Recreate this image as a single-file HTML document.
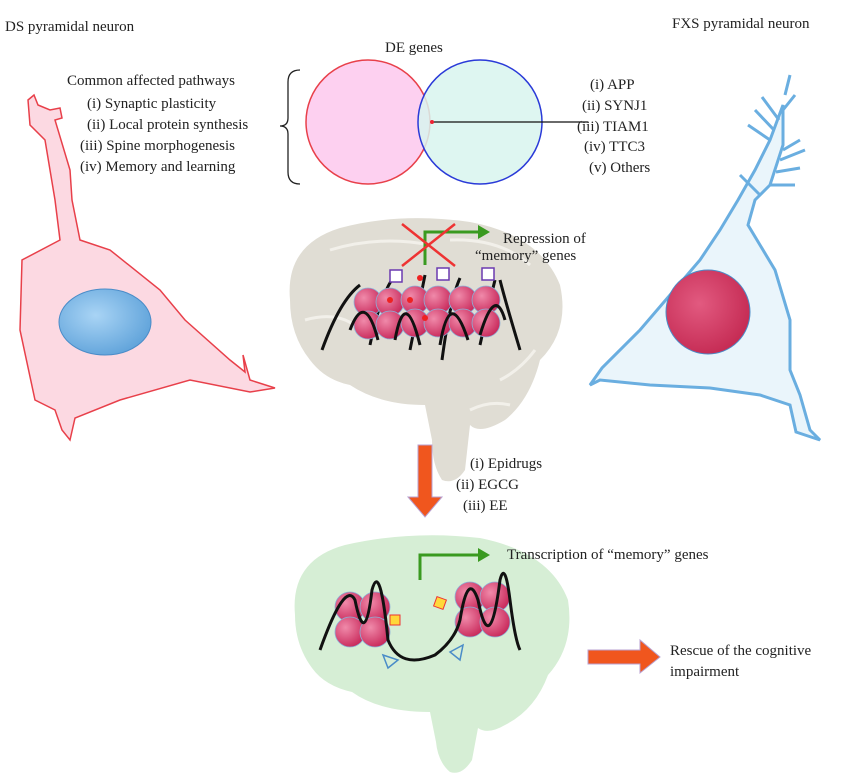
<!DOCTYPE html>
<html><head><meta charset="utf-8"><style>
html,body{margin:0;padding:0;background:#fff}
svg{display:block}
text{font-family:"Liberation Serif",serif;font-size:15px;fill:#222}
</style></head><body>
<svg width="850" height="779" viewBox="0 0 850 779" xmlns="http://www.w3.org/2000/svg">
<defs>
<radialGradient id="sph" cx="35%" cy="35%" r="70%"><stop offset="0" stop-color="#f08aaa"/><stop offset="1" stop-color="#c8285a"/></radialGradient>
<radialGradient id="nucB" cx="40%" cy="40%" r="70%"><stop offset="0" stop-color="#a9d4f5"/><stop offset="1" stop-color="#5a9fd8"/></radialGradient>
<radialGradient id="nucR" cx="40%" cy="40%" r="70%"><stop offset="0" stop-color="#e25a80"/><stop offset="1" stop-color="#c2264f"/></radialGradient>
</defs>
<text x="5" y="31">DS pyramidal neuron</text>
<text x="672" y="28">FXS pyramidal neuron</text>
<text x="385" y="52">DE genes</text>
<text x="67" y="85">Common affected pathways</text>
<text x="87" y="108">(i) Synaptic plasticity</text>
<text x="87" y="129">(ii) Local protein synthesis</text>
<text x="80" y="150">(iii) Spine morphogenesis</text>
<text x="80" y="171">(iv) Memory and learning</text>
<path d="M300,70 Q288,70 288,82 L288,118 Q288,126 280,126 Q288,126 288,134 L288,172 Q288,184 300,184" fill="none" stroke="#222" stroke-width="1.3"/>
<circle cx="368" cy="122" r="62" fill="#fdd0f0" stroke="#e8404a" stroke-width="1.5"/>
<circle cx="480" cy="122" r="62" fill="#d8f5ee" fill-opacity="0.85" stroke="#2a3ad8" stroke-width="1.5"/>
<line x1="432" y1="122" x2="588" y2="122" stroke="#111" stroke-width="1.3"/>
<circle cx="432" cy="122" r="2" fill="#e23"/>
<text x="590" y="89">(i) APP</text>
<text x="582" y="110">(ii) SYNJ1</text>
<text x="577" y="131">(iii) TIAM1</text>
<text x="584" y="151">(iv) TTC3</text>
<text x="589" y="172">(v) Others</text>
<!-- left neuron -->
<path d="M28,100 L34,95 L38,105 L50,110 L60,108 L62,118 L55,120 L70,170 L72,200 L80,240 L110,250 L160,290 L185,320 L230,360 L245,372 L243,355 L250,380 L275,388 L250,392 L190,380 L120,400 L75,418 L70,440 L62,430 L55,410 L35,400 L20,330 L22,260 L60,240 L55,200 L45,140 L30,125 Z" fill="#fcd9e2" stroke="#e8404a" stroke-width="1.5"/>
<ellipse cx="105" cy="322" rx="46" ry="33" fill="url(#nucB)" stroke="#4a8cc8"/>
<!-- right neuron -->
<path d="M783,105 L783,145 L770,185 L755,200 L748,225 L775,270 L790,320 L790,370 L800,395 L810,430 L820,440 L796,432 L790,405 L760,395 L710,388 L650,385 L600,380 L590,385 L602,368 L640,330 L700,260 L720,230 L738,200 L755,170 L770,140 Z" fill="#eaf5fb" stroke="#6aaee0" stroke-width="3"/>
<path d="M770,140 L748,125 M774,130 L755,110 M779,120 L762,97 M783,150 L800,140 M780,160 L805,150 M776,172 L800,168 M770,185 L795,185 M760,195 L740,175 M783,110 L795,95 M785,95 L790,75" stroke="#6aaee0" stroke-width="3" fill="none"/>
<circle cx="708" cy="312" r="42" fill="url(#nucR)" stroke="#4a8cc8"/>
<!-- top brain -->
<path d="M290,300 Q285,245 340,228 Q400,212 470,222 Q540,235 560,285 Q570,330 540,360 Q530,400 505,420 Q480,435 470,425 L465,470 Q455,485 442,480 Q432,465 432,440 L425,405 Q380,405 350,385 Q325,380 310,360 Q290,335 290,300 Z" fill="#e0ddd4"/>
<path d="M330,250 Q380,235 430,245 M450,240 Q500,238 530,265 M305,320 Q340,310 360,330 M500,380 Q520,370 535,350 M470,410 Q490,400 510,405" stroke="#f2f0ea" stroke-width="3" fill="none"/>
<g stroke="#111" stroke-width="3" fill="none">
<path d="M322,350 Q340,300 360,285 M370,345 Q380,295 395,275 M410,350 Q420,300 425,275 M442,360 Q450,300 460,278 M480,345 Q490,300 495,280 M520,350 Q505,300 500,280"/>
</g>
<g fill="url(#sph)" stroke="#8ab0d8" stroke-width="0.8">
<circle cx="368" cy="302" r="14"/><circle cx="390" cy="302" r="14"/><circle cx="368" cy="325" r="14"/><circle cx="390" cy="325" r="14"/>
<circle cx="415" cy="300" r="14"/><circle cx="438" cy="300" r="14"/><circle cx="415" cy="323" r="14"/><circle cx="438" cy="323" r="14"/>
<circle cx="463" cy="300" r="14"/><circle cx="486" cy="300" r="14"/><circle cx="463" cy="323" r="14"/><circle cx="486" cy="323" r="14"/>
</g>
<g stroke="#111" stroke-width="3" fill="none">
<path d="M350,330 Q365,290 378,340 M395,340 Q405,285 420,345 M440,345 Q450,285 468,340 M480,335 Q495,285 505,320"/>
</g>
<g fill="#fff" stroke="#6a3ab0" stroke-width="1.5">
<rect x="390" y="270" width="12" height="12"/><rect x="437" y="268" width="12" height="12"/><rect x="482" y="268" width="12" height="12"/>
</g>
<g fill="#e22"><circle cx="390" cy="300" r="3"/><circle cx="410" cy="300" r="3"/><circle cx="425" cy="318" r="3"/><circle cx="420" cy="278" r="3"/></g>
<path d="M425,265 L425,232 L480,232" stroke="#3a9a20" stroke-width="3" fill="none"/>
<path d="M478,225 L490,232 L478,239 Z" fill="#3a9a20"/>
<path d="M402,224 L455,266 M455,224 L402,266" stroke="#e33" stroke-width="2.5"/>
<text x="503" y="243">Repression of</text>
<text x="475" y="260">“memory” genes</text>
<!-- down arrow -->
<path d="M418,445 L432,445 L432,497 L442,497 L425,517 L408,497 L418,497 Z" fill="#f0561e" stroke="#b8a0d0"/>
<text x="470" y="468">(i) Epidrugs</text>
<text x="456" y="489">(ii) EGCG</text>
<text x="463" y="510">(iii) EE</text>
<!-- bottom brain -->
<path d="M295,615 Q290,560 345,545 Q410,530 480,538 Q550,552 568,600 Q575,645 548,675 Q535,710 505,725 Q488,735 478,728 L472,760 Q462,776 450,772 Q438,762 436,742 L430,712 Q380,712 352,692 Q325,686 312,668 Q295,645 295,615 Z" fill="#d6eed5"/>
<g fill="url(#sph)" stroke="#8ab0d8" stroke-width="0.8">
<circle cx="350" cy="607" r="15"/><circle cx="375" cy="607" r="15"/><circle cx="350" cy="632" r="15"/><circle cx="375" cy="632" r="15"/>
<circle cx="470" cy="597" r="15"/><circle cx="495" cy="597" r="15"/><circle cx="470" cy="622" r="15"/><circle cx="495" cy="622" r="15"/>
</g>
<g stroke="#111" stroke-width="3" fill="none">
<path d="M320,650 Q345,580 355,600 Q365,650 372,590 Q380,560 388,640 Q400,670 435,655 Q455,640 460,620 Q468,570 478,600 Q490,660 500,580 Q505,560 510,600 Q515,640 520,650"/>
</g>
<rect x="390" y="615" width="10" height="10" fill="#ffd83a" stroke="#e33"/>
<rect x="435" y="598" width="10" height="10" fill="#ffd83a" stroke="#e33" transform="rotate(20 440 603)"/>
<path d="M383,655 L398,660 L388,668 Z M450,652 L463,645 L460,660 Z" fill="none" stroke="#4a8cc8" stroke-width="1.5"/>
<path d="M420,580 L420,555 L480,555" stroke="#3a9a20" stroke-width="3" fill="none"/>
<path d="M478,548 L490,555 L478,562 Z" fill="#3a9a20"/>
<text x="507" y="559">Transcription of “memory” genes</text>
<path d="M588,650 L640,650 L640,640 L660,657 L640,673 L640,664 L588,664 Z" fill="#f0561e" stroke="#b8a0d0"/>
<text x="670" y="655">Rescue of the cognitive</text>
<text x="670" y="676">impairment</text>
</svg>
</body></html>
